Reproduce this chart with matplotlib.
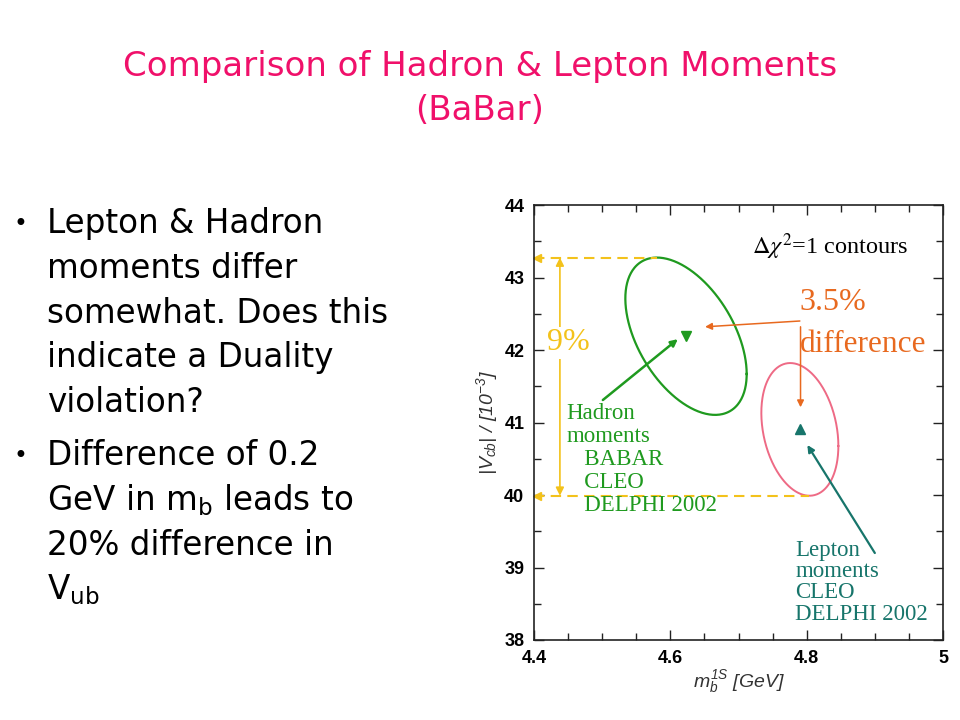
import numpy as np
import matplotlib
matplotlib.use("Agg")
import matplotlib.pyplot as plt
from matplotlib.ticker import MultipleLocator

plt.rcParams["mathtext.fontset"] = "custom"
plt.rcParams["mathtext.rm"] = "Liberation Sans:italic"
plt.rcParams["mathtext.it"] = "Liberation Sans:italic"

# fit results (m_b^1S [GeV], |Vcb| [1e-3])
hadron_center = [4.623, 42.19]
hadron_sigma = [0.089, 1.085]
hadron_rho = -0.48
lepton_center = [4.79, 40.905]
lepton_sigma = [0.0565, 0.915]
lepton_rho = -0.25

title_lines = ["Comparison of Hadron & Lepton Moments", "(BaBar)"]
bullet1 = ["Lepton & Hadron", "moments differ", "somewhat. Does this",
           "indicate a Duality", "violation?"]
bullet2 = ["Difference of 0.2", r"GeV in m$_\mathrm{b}$ leads to",
           "20% difference in", r"V$_\mathrm{ub}$"]
hadron_label = ["Hadron", "moments", "   BABAR", "   CLEO", "   DELPHI 2002"]
lepton_label = ["Lepton", "moments", "CLEO", "DELPHI 2002"]

green = "#1f9a1f"
pink = "#ee6a85"
teal = "#17756b"
gold = "#f3c21b"
orange = "#e8691f"


def contour(center, sigma, rho):
    # delta chi2 = 1 ellipse
    t = np.linspace(0, 2 * np.pi, 300)
    x = center[0] + sigma[0] * np.cos(t)
    y = center[1] + sigma[1] * (rho * np.cos(t) + np.sqrt(1 - rho ** 2) * np.sin(t))
    return x, y


fig = plt.figure(figsize=(9.6, 7.2), dpi=100)

# slide title
for i, line in enumerate(title_lines):
    fig.text(0.5, 1 - (76 + 44 * i) / 720, line, ha="center", va="baseline",
             fontsize=24.5, color="#f0106a", family="DejaVu Sans")

# bullets
y0 = 233
for k, lines in enumerate([bullet1, bullet2]):
    fig.text(20 / 960, 1 - (y0 - 9) / 720, "•", ha="center", va="center",
             fontsize=17, color="black")
    for line in lines:
        fig.text(47 / 960, 1 - y0 / 720, line, ha="left", va="baseline",
                 fontsize=23.5, color="black", family="DejaVu Sans",
                 math_fontfamily="dejavusans")
        y0 += 44.8
    y0 += 8

ax = fig.add_axes([534 / 960, 80 / 720, 409 / 960, 435 / 720])
ax.set_xlim(4.4, 5.0)
ax.set_ylim(38, 44)
ax.xaxis.set_major_locator(MultipleLocator(0.2))
ax.xaxis.set_minor_locator(MultipleLocator(0.05))
ax.yaxis.set_major_locator(MultipleLocator(1))
ax.yaxis.set_minor_locator(MultipleLocator(0.5))
ax.xaxis.set_major_formatter(matplotlib.ticker.FuncFormatter(lambda v, p: f"{v:g}"))
ax.tick_params(which="both", direction="in", top=True, right=True, width=1, color="#222222")
ax.tick_params(which="major", length=7, pad=7)
ax.tick_params(which="minor", length=5)
for lab in ax.get_xticklabels() + ax.get_yticklabels():
    lab.set_fontweight("bold")
    lab.set_family("Liberation Sans")
    lab.set_fontsize(13)
for s in ax.spines.values():
    s.set_linewidth(1.2)
    s.set_color("#222222")

ax.set_xlabel("$m_b^{1S}$ [GeV]", fontsize=14, style="italic", family="Liberation Sans",
              labelpad=1, color="#333333")
ax.set_ylabel("$|V_{cb}|$ / [$10^{-3}$]", fontsize=14, style="italic",
              family="Liberation Sans", labelpad=3, color="#333333")

# contours and central values
hx, hy = contour(hadron_center, hadron_sigma, hadron_rho)
lx, ly = contour(lepton_center, lepton_sigma, lepton_rho)
ax.plot(hx, hy, color=green, lw=1.6)
ax.plot(lx, ly, color=pink, lw=1.4)
ax.plot(hadron_center[0], hadron_center[1], "v", color=green, ms=7)
ax.plot(lepton_center[0], lepton_center[1], "^", color=teal, ms=7)

ax.text(4.72, 43.42, r"$\Delta\chi^2$=1 contours", fontsize=17.5, family="Liberation Serif",
        math_fontfamily="stix", va="center")

# 9% band between the extreme contours
top_y = hadron_center[1] + hadron_sigma[1]
top_x = hadron_center[0] + hadron_sigma[0] * hadron_rho
bot_y = lepton_center[1] - lepton_sigma[1]
bot_x = lepton_center[0] - lepton_sigma[0] * lepton_rho
ax.plot([4.4, top_x], [top_y, top_y], "--", color=gold, lw=1.5, dashes=(5, 3))
ax.plot([4.4, bot_x], [bot_y, bot_y], "--", color=gold, lw=1.5, dashes=(5, 3))
ax.plot([4.405, 4.405], [top_y, bot_y], "<", color=gold, ms=6, clip_on=False)
ax.annotate("", xy=(4.438, top_y), xytext=(4.438, bot_y),
            arrowprops=dict(arrowstyle="<|-|>", color=gold, lw=1.2,
                            mutation_scale=12, shrinkA=0, shrinkB=0))
ax.text(4.45, 42.1, "9%", color=gold, fontsize=23, family="Liberation Serif",
        ha="center", va="center", bbox=dict(fc="white", ec="none", pad=1))

# 3.5% difference
ax.text(4.79, 42.66, "3.5%", color=orange, fontsize=23, family="Liberation Serif",
        va="center")
ax.text(4.79, 42.08, "difference", color=orange, fontsize=22.5, family="Liberation Serif",
        va="center")
ax.annotate("", xy=(4.651, 42.32), xytext=(4.79, 42.40),
            arrowprops=dict(arrowstyle="-|>", color=orange, lw=1.1,
                            mutation_scale=10, shrinkA=0, shrinkB=0))
ax.annotate("", xy=(4.791, 41.21), xytext=(4.791, 42.32),
            arrowprops=dict(arrowstyle="-|>", color=orange, lw=1.1,
                            mutation_scale=10, shrinkA=0, shrinkB=0))

# labels with arrows
for i, line in enumerate(hadron_label):
    ax.text(4.448, 41.13 - 0.318 * i, line, color=green, fontsize=16.5,
            family="Liberation Serif", va="center")
ax.annotate("", xy=(4.611, 42.15), xytext=(4.501, 41.31),
            arrowprops=dict(arrowstyle="-|>", color=green, lw=1.8,
                            mutation_scale=10, shrinkA=0, shrinkB=0))
for i, line in enumerate(lepton_label):
    ax.text(4.783, 39.24 - 0.295 * i, line, color=teal, fontsize=16.5,
            family="Liberation Serif", va="center")
ax.annotate("", xy=(4.801, 40.69), xytext=(4.9, 39.2),
            arrowprops=dict(arrowstyle="-|>", color=teal, lw=1.6,
                            mutation_scale=10, shrinkA=0, shrinkB=0))

fig.savefig("out.png", dpi=100)
